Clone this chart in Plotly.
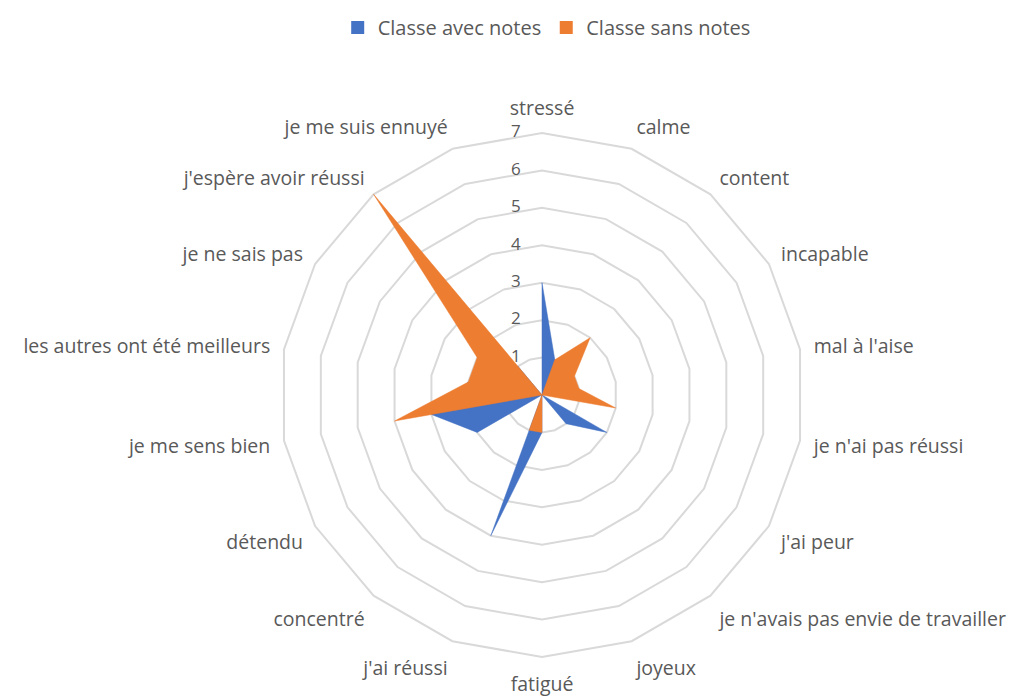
import plotly.graph_objects as go

# catégories dans le sens horaire, à partir du haut
categories = ["stressé", "calme", "content", "incapable", "mal à l'aise",
              "je n'ai pas réussi", "j'ai peur", "je n'avais pas envie de travailler",
              "joyeux", "fatigué", "j'ai réussi", "concentré", "détendu",
              "je me sens bien", "les autres ont été meilleurs", "je ne sais pas",
              "j'espère avoir réussi", "je me suis ennuyé"]

avec_notes = [3, 1, 1, 0, 1, 0, 2, 1, 0, 1, 4, 0, 2, 3, 2, 1, 1, 0]
sans_notes = [0, 1, 2, 1, 1, 2, 0, 0, 0, 1, 1, 0, 0, 4, 2, 2, 7, 0]

radial_ticks = [0, 1, 2, 3, 4, 5, 6, 7]

series = [("Classe avec notes", avec_notes, "#4472C4"),
          ("Classe sans notes", sans_notes, "#ED7D31")]

fig = go.Figure()
for name, vals, col in series:
    fig.add_trace(go.Scatterpolar(
        r=vals + vals[:1], theta=categories + categories[:1],
        name=name, mode="lines", fill="toself", showlegend=False,
        fillcolor=col, line=dict(color=col, width=0.5),
    ))
# entrées de légende carrées, comme dans Excel
for name, vals, col in series:
    fig.add_trace(go.Scatterpolar(
        r=[None], theta=[categories[0]], name=name, mode="markers",
        marker=dict(symbol="square", size=13, color=col),
    ))

# étiquettes de l'axe radial, à gauche du rayon "stressé"
fig.add_trace(go.Scatterpolar(
    r=radial_ticks, theta=[categories[0]] * len(radial_ticks),
    mode="text", text=[f"{t}\u2003\u2005" for t in radial_ticks],
    textposition="middle left", showlegend=False, hoverinfo="skip",
    textfont=dict(size=17, color="#595959"),
))

fig.update_layout(
    width=1032, height=697,
    paper_bgcolor="white",
    margin=dict(l=0, r=0, t=0, b=0),
    font=dict(family="Open Sans", size=19, color="#595959"),
    legend=dict(orientation="h", x=0.522, xanchor="center", y=1.0, yanchor="top",
                font=dict(size=20), itemwidth=30, tracegroupgap=20),
    polar=dict(
        domain=dict(x=[0.2505, 0.7844], y=[0.0493, 0.8402]),
        bgcolor="white",
        gridshape="linear",
        angularaxis=dict(direction="clockwise", rotation=90, showgrid=False,
                         showline=False, ticks="",
                         tickfont=dict(size=19.5, color="#595959")),
        radialaxis=dict(range=[0, 7.36], tickvals=radial_ticks, angle=90,
                        showticklabels=False, showline=False, ticks="",
                        gridcolor="#D9D9D9", gridwidth=1.5),
    ),
)

fig.write_html("out.html")
